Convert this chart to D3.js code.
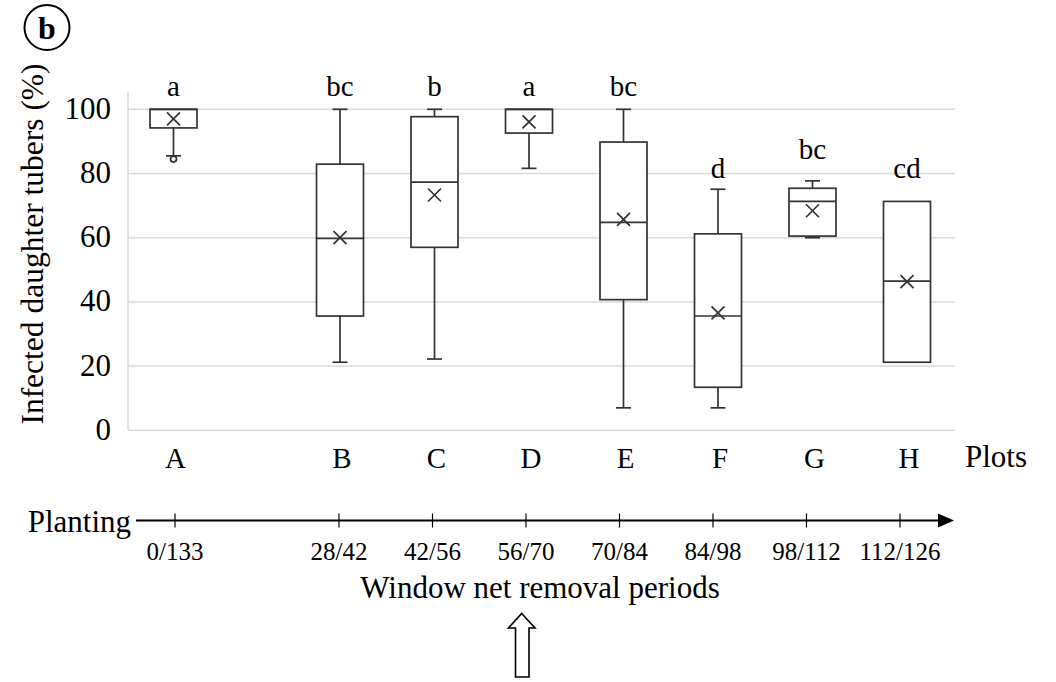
<!DOCTYPE html>
<html>
<head>
<meta charset="utf-8">
<script src="https://cdn.jsdelivr.net/npm/d3@7"></script>
<style>
  body { margin: 0; background: #fff; }
  text { font-family: "Liberation Serif", "Times New Roman", serif; fill: #000; }
</style>
</head>
<body>
<script>
// plots and the statistics
const plots   = ["A", "B", "C", "D", "E", "F", "G", "H"];
const letters = ["a", "bc", "b", "a", "bc", "d", "bc", "cd"];
const wMin    = [85.5, 21.2, 22.2, 81.6, 7.0, 7.0, 60.0, 21.2];
const q1      = [94.2, 35.6, 57.0, 92.6, 40.7, 13.4, 60.5, 21.2];
const median  = [100, 59.8, 77.3, 100, 64.8, 35.6, 71.3, 46.5];
const q3      = [100, 82.9, 97.7, 100, 89.8, 61.2, 75.4, 71.3];
const wMax    = [100, 100, 100, 100, 100, 75.1, 77.7, 71.3];
const means   = [97.0, 60.0, 73.3, 96.1, 65.7, 36.6, 68.4, 46.3];
const outliers = [[84.5], [], [], [], [], [], [], []];
// letter heights in % units
const letterAt = [104, 104, 104, 104, 104, 78.5, 84.5, 78.5];
const yTicks  = [0, 20, 40, 60, 80, 100];
const periods = ["0/133", "28/42", "42/56", "56/70", "70/84", "84/98", "98/112", "112/126"];

const width = 1056, height = 682;
const svg = d3.select("body").append("svg")
  .attr("width", width).attr("height", height);

const y = d3.scaleLinear().domain([0, 100]).range([430.3, 109.3]);
// plot A sits further left than the evenly spaced B..H
const x = d3.scaleLinear().domain([0, 1, 7]).range([173.5, 340, 907]);
const xt = d3.scaleLinear().domain([0, 1, 7]).range([175, 339, 900]);
const boxW = 47, capW = 15;

// grid
svg.append("g").selectAll("line").data(yTicks).join("line")
  .attr("x1", 128).attr("x2", 955)
  .attr("y1", d => y(d)).attr("y2", d => y(d))
  .attr("stroke", "#d9d9d9").attr("stroke-width", 1.5);
svg.append("line")
  .attr("x1", 128).attr("x2", 128).attr("y1", 92).attr("y2", y(0))
  .attr("stroke", "#d9d9d9").attr("stroke-width", 1.5);

// y tick labels
svg.append("g").selectAll("text").data(yTicks).join("text")
  .attr("x", 111).attr("y", d => y(d) + 9.5)
  .attr("text-anchor", "end").attr("font-size", 31)
  .text(d => d);

// y title
svg.append("text")
  .attr("transform", "translate(43,244) rotate(-90)")
  .attr("text-anchor", "middle").attr("font-size", 31.5)
  .text("Infected daughter tubers (%)");

// boxes
const g = svg.append("g").attr("stroke", "#333").attr("stroke-width", 1.7).attr("fill", "none");
plots.forEach((p, i) => {
  const cx = x(i);
  // whiskers
  if (wMax[i] > q3[i]) {
    g.append("line").attr("x1", cx).attr("x2", cx).attr("y1", y(q3[i])).attr("y2", y(wMax[i]));
    g.append("line").attr("x1", cx - capW / 2).attr("x2", cx + capW / 2).attr("y1", y(wMax[i])).attr("y2", y(wMax[i]));
  }
  if (wMin[i] < q1[i]) {
    g.append("line").attr("x1", cx).attr("x2", cx).attr("y1", y(q1[i])).attr("y2", y(wMin[i]));
    g.append("line").attr("x1", cx - capW / 2).attr("x2", cx + capW / 2).attr("y1", y(wMin[i])).attr("y2", y(wMin[i]));
  }
  // box
  g.append("rect")
    .attr("x", cx - boxW / 2).attr("y", y(q3[i]))
    .attr("width", boxW).attr("height", y(q1[i]) - y(q3[i]))
    .attr("fill", "#fff");
  g.append("line").attr("x1", cx - boxW / 2).attr("x2", cx + boxW / 2)
    .attr("y1", y(median[i])).attr("y2", y(median[i]));
  // mean cross
  const my = y(means[i]), s = 6.5;
  g.append("path").attr("d", `M${cx - s},${my - s}L${cx + s},${my + s}M${cx - s},${my + s}L${cx + s},${my - s}`);
  // outliers
  outliers[i].forEach(o => {
    g.append("circle").attr("cx", cx).attr("cy", y(o)).attr("r", 3).attr("fill", "#fff");
  });
  // significance letters
  svg.append("text").attr("x", cx).attr("y", y(letterAt[i]))
    .attr("text-anchor", "middle").attr("font-size", 29).text(letters[i]);
  // plot labels
  svg.append("text").attr("x", cx + 2).attr("y", 468)
    .attr("text-anchor", "middle").attr("font-size", 29).text(p);
});

svg.append("text").attr("x", 965).attr("y", 467).attr("font-size", 31).text("Plots");

// timeline
const ty = 520.5;
svg.append("line").attr("x1", 136).attr("x2", 940).attr("y1", ty).attr("y2", ty)
  .attr("stroke", "#000").attr("stroke-width", 2.2);
svg.append("path").attr("d", `M938,${ty - 7}L954,${ty}L938,${ty + 7}Z`).attr("fill", "#000");
svg.append("g").selectAll("line").data(periods).join("line")
  .attr("x1", (d, i) => xt(i)).attr("x2", (d, i) => xt(i))
  .attr("y1", ty - 7).attr("y2", ty + 7)
  .attr("stroke", "#000").attr("stroke-width", 1.2);
svg.append("g").selectAll("text").data(periods).join("text")
  .attr("x", (d, i) => xt(i)).attr("y", 560)
  .attr("text-anchor", "middle").attr("font-size", 25).text(d => d);
svg.append("text").attr("x", 131).attr("y", 531.5).attr("text-anchor", "end")
  .attr("font-size", 31).text("Planting");
svg.append("text").attr("x", 540).attr("y", 598).attr("text-anchor", "middle")
  .attr("font-size", 31).text("Window net removal periods");

// hollow arrow
svg.append("path")
  .attr("d", "M521.7,613.5L535,628L529,628L529,677L515.5,677L515.5,628L508.5,628Z")
  .attr("fill", "#fff").attr("stroke", "#000").attr("stroke-width", 1.6);

// panel tag
svg.append("circle").attr("cx", 47).attr("cy", 27.5).attr("r", 22.5)
  .attr("fill", "none").attr("stroke", "#000").attr("stroke-width", 2);
svg.append("text").attr("x", 47).attr("y", 38.5).attr("text-anchor", "middle")
  .attr("font-size", 32).attr("font-weight", "bold").text("b");
</script>
</body>
</html>
